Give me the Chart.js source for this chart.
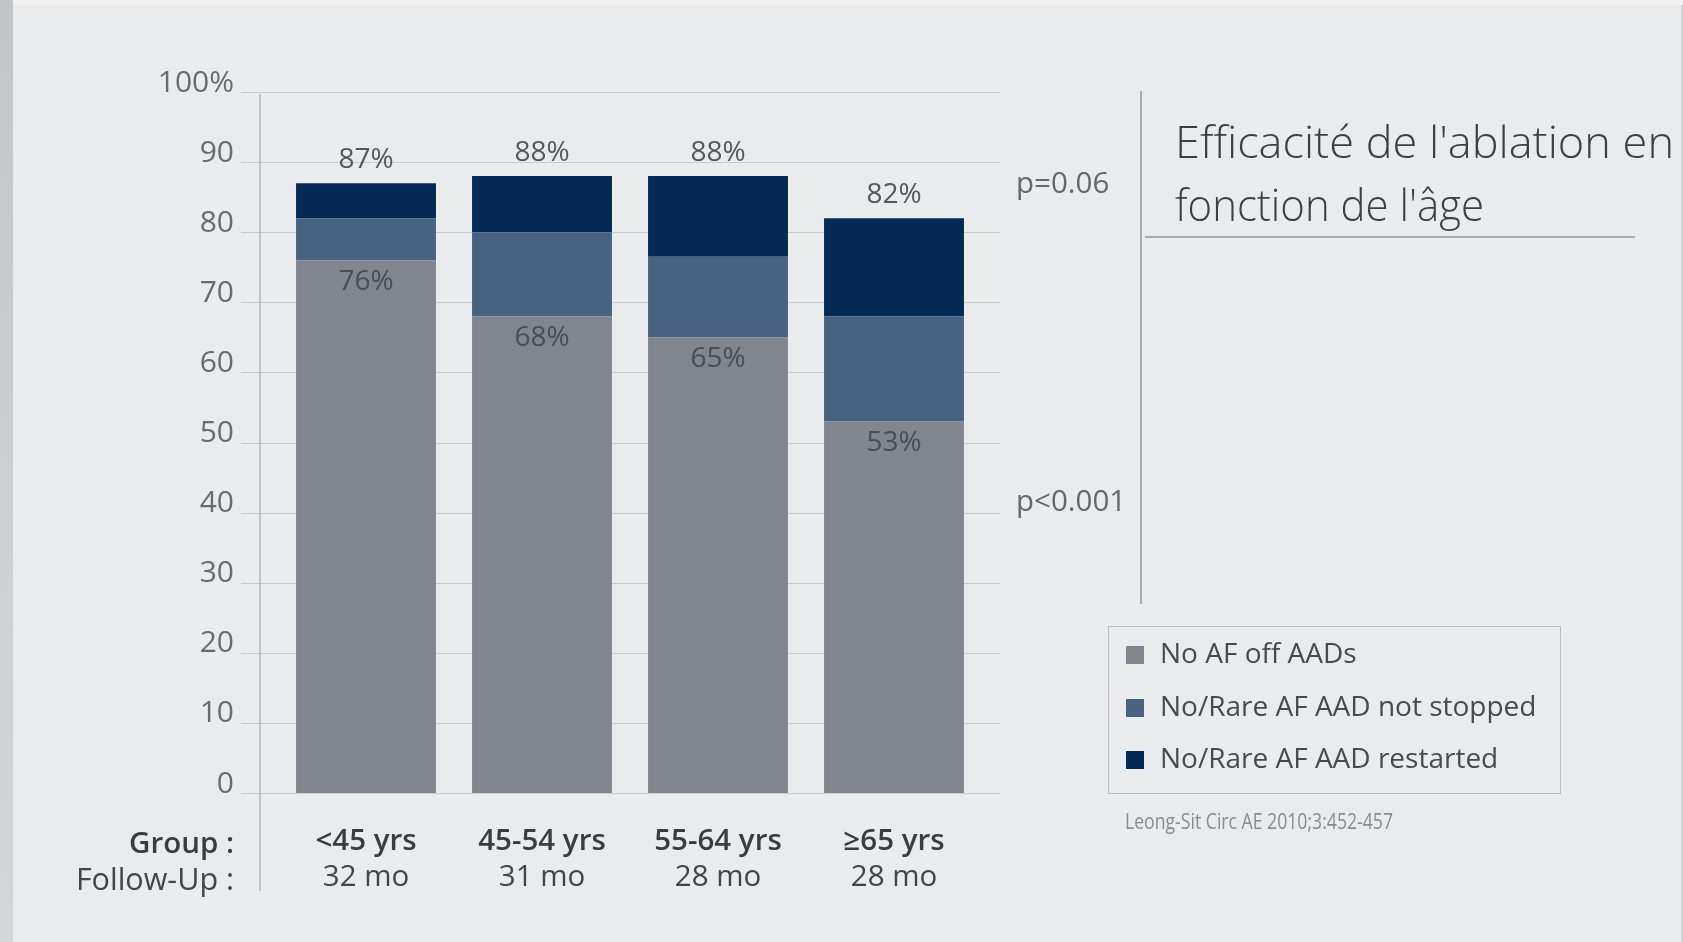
<!DOCTYPE html>
<html>
<head>
<meta charset="utf-8">
<script src="https://cdn.jsdelivr.net/npm/chart.js@4.4.0/dist/chart.umd.min.js"></script>
<style>
  body { margin:0; width:1683px; height:942px; overflow:hidden; background:#eaebec; font-family:"Open Sans", sans-serif; position:relative; }
  #edge { position:absolute; left:0; top:0; width:13px; height:942px; background:linear-gradient(#c2c6c8,#d4d7d8); }
  #redge { position:absolute; right:0; top:0; width:2px; height:942px; background:#cfd0d2; }
  #tedge { position:absolute; left:13px; top:0; right:0; height:5px; background:#f1f1f2; }
  #myChart { position:absolute; left:0; top:0; }
  .txt { position:absolute; white-space:nowrap; height:40px; line-height:40px; }
  .fit { transform-origin:0 50%; display:inline-block; }
  .rule { position:absolute; background:#a9abad; }
  #legend { position:absolute; left:1108px; top:626px; width:451px; height:166px; border:1.5px solid #bcbdbf; }
  .item { position:absolute; left:17px; height:40px; line-height:40px; font-size:28px; color:#4a4a4a; white-space:nowrap; }
  .item i { display:inline-block; width:18px; height:18px; margin-right:16px; vertical-align:-1px; }
</style>
</head>
<body>
<div id="edge"></div>
<div id="redge"></div>
<div id="tedge"></div>
<canvas id="myChart" width="1683" height="942"></canvas>

<div class="txt" style="right:1449px; top:822px; font-size:29.5px; font-weight:600; color:#3c3c3c">Group :</div>
<div class="txt" style="right:1449px; top:858px; font-size:30.5px; color:#454545">Follow-Up :</div>

<div class="txt" id="p1" style="left:1016px; top:162px; font-size:29.5px; color:#676767"></div>
<div class="txt" id="p2" style="left:1016px; top:480px; font-size:29.5px; color:#676767"></div>

<div class="rule" style="left:1140px; top:91px; width:1.5px; height:513px"></div>
<div class="rule" style="left:1145px; top:236px; width:490px; height:1.5px"></div>

<div class="txt" style="left:1175px; top:116px; height:50px; line-height:50px; font-size:45px; font-weight:300; color:#3f3f3f"><span class="fit" data-w="499">Efficacité de l'ablation en</span></div>
<div class="txt" style="left:1175px; top:179px; height:50px; line-height:50px; font-size:45px; font-weight:300; color:#3f3f3f"><span class="fit" data-w="309">fonction de l'âge</span></div>

<div id="legend"></div>
<div class="txt" style="left:1125px; top:801px; font-size:21px; color:#8b8b8b"><span class="fit" data-w="268">Leong-Sit Circ AE 2010;3:452-457</span></div>

<script>
const groups = ['<45 yrs', '45-54 yrs', '55-64 yrs', '≥65 yrs']
const followUp = ['32 mo', '31 mo', '28 mo', '28 mo']
const noAfOffAads = [76, 68, 65, 53]
const aadNotStopped = [6, 12, 11.5, 15]
const aadRestarted = [5, 8, 11.5, 14]
const seriesNames = ['No AF off AADs', 'No/Rare AF AAD not stopped', 'No/Rare AF AAD restarted']
const seriesColors = ['#80858e', '#476381', '#042b56']
const yTicks = ['0', '10', '20', '30', '40', '50', '60', '70', '80', '90', '100%']
const pValues = ['p=0.06', 'p<0.001']

document.getElementById('p1').textContent = pValues[0]
document.getElementById('p2').textContent = pValues[1]

// legend box built from the series
const legend = document.getElementById('legend')
seriesNames.forEach((name, i) => {
    let div = document.createElement('div')
    div.className = 'item'
    div.style.top = (5 + i * 52.5) + 'px'
    div.innerHTML = '<i style="background:' + seriesColors[i] + '"></i>'
    div.appendChild(document.createTextNode(name))
    legend.appendChild(div)
})

// squeeze the condensed texts to their width
document.querySelectorAll('.fit').forEach((el) => {
    let w = el.getBoundingClientRect().width
    el.style.transform = 'scaleX(' + (el.dataset.w / w) + ')'
})

// grid lines + axis line, drawn from the y scale
const gridPlugin = {
    id: 'grid',
    beforeDatasetsDraw(chart) {
        const ctx = chart.ctx
        const y = chart.scales.y
        const area = chart.chartArea
        ctx.save()
        ctx.strokeStyle = '#c9cacc'
        ctx.lineWidth = 1.2
        y.ticks.forEach((t) => {
            let py = Math.round(y.getPixelForValue(t.value)) + 0.5
            ctx.beginPath()
            ctx.moveTo(area.left - 37, py)
            ctx.lineTo(area.right + 18, py)
            ctx.stroke()
        })
        ctx.strokeStyle = '#a8aaac'
        ctx.beginPath()
        ctx.moveTo(area.left - 18, y.getPixelForValue(100) + 2)
        ctx.lineTo(area.left - 18, 891)
        ctx.stroke()
        ctx.restore()
    }
}

// percentage labels: total above the bar, base value inside the grey part
const labelPlugin = {
    id: 'labels',
    afterDatasetsDraw(chart) {
        const ctx = chart.ctx
        const base = chart.getDatasetMeta(0).data
        const top = chart.getDatasetMeta(2).data
        ctx.save()
        ctx.font = '28px "Open Sans"'
        ctx.textAlign = 'center'
        ctx.textBaseline = 'middle'
        groups.forEach((g, i) => {
            let total = Math.round(noAfOffAads[i] + aadNotStopped[i] + aadRestarted[i])
            ctx.fillStyle = '#575757'
            ctx.fillText(total + '%', top[i].x, top[i].y - 23)
            ctx.fillStyle = '#4a4d52'
            ctx.fillText(noAfOffAads[i] + '%', base[i].x, base[i].y + 22)
        })
        ctx.restore()
    }
}

const data = {
    labels: groups,
    datasets: [
        { label: seriesNames[0], data: noAfOffAads, backgroundColor: seriesColors[0] },
        { label: seriesNames[1], data: aadNotStopped, backgroundColor: seriesColors[1] },
        { label: seriesNames[2], data: aadRestarted, backgroundColor: seriesColors[2] }
    ]
}

const config = {
    type: 'bar',
    data: data,
    options: {
        responsive: false,
        animation: false,
        categoryPercentage: 1,
        barPercentage: 0.795,
        layout: { padding: { top: 92, right: 701, left: 0, bottom: 0 } },
        plugins: {
            legend: { display: false },
            tooltip: { enabled: false }
        },
        scales: {
            x: {
                stacked: true,
                weight: 0,
                grid: { display: false, drawTicks: false },
                border: { display: false },
                ticks: { padding: 31, color: '#3c3c3c', font: { family: 'Open Sans', size: 29.5, weight: '600' } },
                afterFit: (s) => { s.height = 66 }
            },
            x2: {
                type: 'category',
                labels: followUp,
                offset: true,
                position: 'bottom',
                weight: 1,
                grid: { display: false, drawTicks: false },
                border: { display: false },
                ticks: { padding: 1, color: '#454545', font: { family: 'Open Sans', size: 29.5 } },
                afterFit: (s) => { s.height = 83 }
            },
            y: {
                stacked: true,
                min: 0,
                max: 100,
                grid: { display: false, drawTicks: false },
                border: { display: false },
                ticks: {
                    stepSize: 10,
                    padding: 44,
                    labelOffset: -9,
                    color: '#6b6b6b',
                    font: { family: 'Open Sans', size: 30 },
                    callback: (v, i) => yTicks[i]
                },
                afterFit: (s) => { s.width = 278 }
            }
        }
    },
    plugins: [gridPlugin, labelPlugin]
}

var myChart = new Chart(document.getElementById('myChart'), config)
</script>
</body>
</html>
